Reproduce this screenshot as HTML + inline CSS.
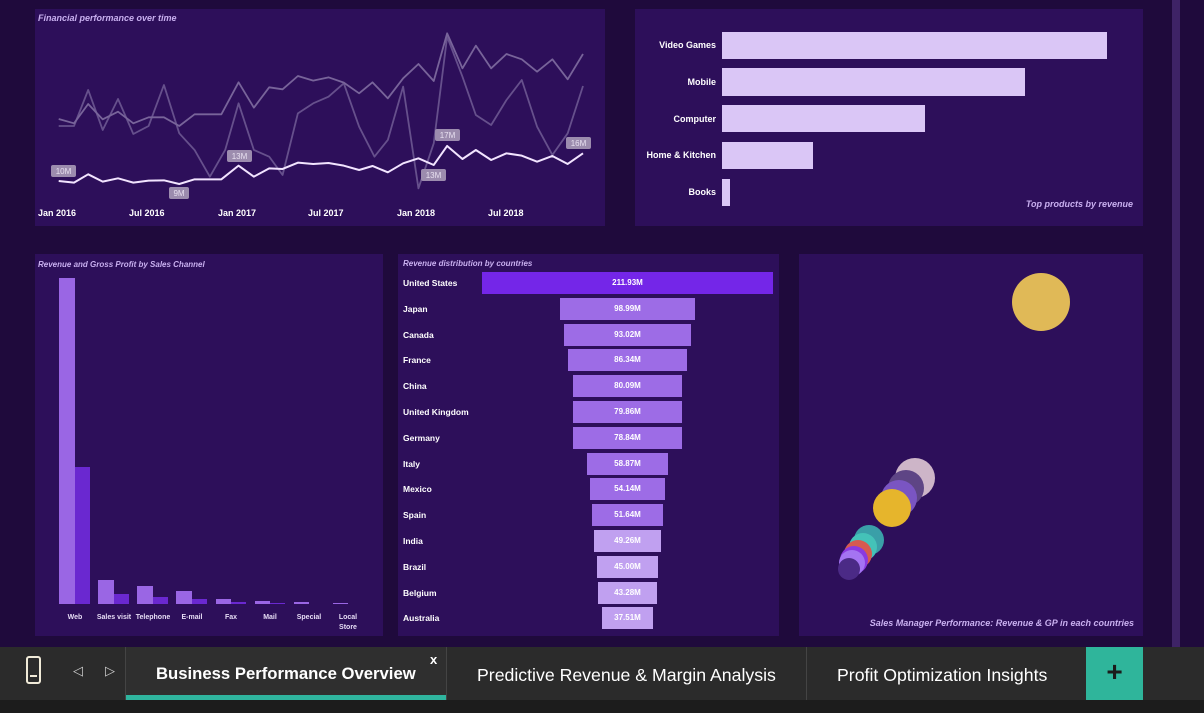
<!DOCTYPE html>
<html><head><meta charset="utf-8"><style>
body{margin:0;width:1204px;height:713px;background:#1f0a3c;overflow:hidden;font-family:"Liberation Sans",sans-serif;position:relative}
.p{position:absolute;background:#2d0f5a}
.t{position:absolute;font-size:9px;font-style:italic;font-weight:bold;color:#c9b0f0}
.lab{position:absolute;font-size:9px;font-weight:bold;color:#fff}
.fb{position:absolute;height:22px;font-size:8px;font-weight:bold;color:#fff;text-align:center;line-height:22px}
</style></head><body>
<div style="position:absolute;left:1172px;top:0;width:8px;height:647px;background:#3e2366"></div>
<div class="p" style="left:35px;top:9px;width:570px;height:217px"></div>
<div class="t" style="left:38px;top:13px">Financial performance over time</div>
<svg style="position:absolute;left:0;top:0" width="620" height="230">
<g transform="translate(30,0) scale(0.3827,0.3333)" fill="none" stroke-linejoin="round">
<polyline vector-effect="non-scaling-stroke" stroke="#66508c" stroke-width="1.8" points="75,378 115,378 152,270 190,390 230,297 270,402 310,378 350,255 390,400 430,450 470,530 510,450 545,310 585,450 625,470 660,525 700,340 740,310 780,290 820,250 860,380 900,470 935,420 975,260 1015,565 1055,430 1090,110 1130,230 1165,345 1205,375 1245,300 1285,240 1325,380 1365,465 1405,400 1445,258"/>
<polyline vector-effect="non-scaling-stroke" stroke="#78649a" stroke-width="1.8" points="75,357 115,370 152,312 190,358 230,335 270,370 310,352 350,352 390,378 430,343 500,343 545,247 585,323 625,262 660,268 700,228 740,242 780,232 820,248 860,280 895,247 935,295 975,235 1015,192 1055,243 1090,100 1130,205 1165,137 1205,205 1245,162 1285,178 1325,215 1365,178 1405,238 1445,162"/>
<polyline vector-effect="non-scaling-stroke" stroke="#f2e4ff" stroke-width="2" points="75,543 115,548 152,523 190,545 230,535 270,548 310,542 350,541 390,552 430,538 500,538 545,497 585,530 625,505 660,507 700,488 740,492 780,489 820,497 860,510 895,498 935,517 975,490 1015,475 1055,495 1090,438 1130,477 1165,450 1205,480 1245,460 1285,467 1325,485 1365,468 1405,492 1445,460"/>
</g>
<g font-size="8" fill="#e8e0f0" text-anchor="middle">
<rect x="51" y="165" width="25" height="12" rx="2" fill="#9c8cae"/><text x="63.5" y="174">10M</text>
<rect x="169" y="187" width="20" height="12" rx="2" fill="#9c8cae"/><text x="179" y="196">9M</text>
<rect x="227" y="150" width="25" height="12" rx="2" fill="#9c8cae"/><text x="239.5" y="159">13M</text>
<rect x="435" y="129" width="25" height="12" rx="2" fill="#9c8cae"/><text x="447.5" y="138">17M</text>
<rect x="421" y="169" width="25" height="12" rx="2" fill="#9c8cae"/><text x="433.5" y="178">13M</text>
<rect x="566" y="137" width="25" height="12" rx="2" fill="#9c8cae"/><text x="578.5" y="146">16M</text>
</g>
<g font-size="9" font-weight="bold" fill="#fff">
<text x="38" y="216">Jan 2016</text><text x="129" y="216">Jul 2016</text><text x="218" y="216">Jan 2017</text><text x="308" y="216">Jul 2017</text><text x="397" y="216">Jan 2018</text><text x="488" y="216">Jul 2018</text>
</g></svg>

<div class="p" style="left:635px;top:9px;width:508px;height:217px"></div>
<div style="position:absolute;left:722px;top:32px;width:385px;height:27px;background:#dac6f6"></div>
<div style="position:absolute;left:722px;top:68px;width:303px;height:28px;background:#dac6f6"></div>
<div style="position:absolute;left:722px;top:105px;width:203px;height:27px;background:#dac6f6"></div>
<div style="position:absolute;left:722px;top:142px;width:91px;height:27px;background:#dac6f6"></div>
<div style="position:absolute;left:722px;top:179px;width:8px;height:27px;background:#dac6f6"></div>
<div class="lab" style="right:488px;top:40px">Video Games</div>
<div class="lab" style="right:488px;top:77px">Mobile</div>
<div class="lab" style="right:488px;top:114px">Computer</div>
<div class="lab" style="right:488px;top:150px">Home &amp; Kitchen</div>
<div class="lab" style="right:488px;top:187px">Books</div>
<div class="t" style="right:71px;top:199px">Top products by revenue</div>

<div class="p" style="left:35px;top:254px;width:348px;height:382px"></div>
<div class="t" style="left:38px;top:260px;font-size:8px">Revenue and Gross Profit by Sales Channel</div>
<svg style="position:absolute;left:0;top:0" width="400" height="640">
<g fill="#9a66e4">
<rect x="59" y="278" width="16" height="326"/><rect x="98" y="580" width="16" height="24"/><rect x="137" y="586" width="16" height="18"/><rect x="176" y="591" width="16" height="13"/><rect x="216" y="599" width="15" height="5"/><rect x="255" y="601" width="15" height="3"/><rect x="294" y="602" width="15" height="2"/><rect x="333" y="603" width="15" height="1"/></g>
<g fill="#6a28d0">
<rect x="75" y="467" width="15" height="137"/><rect x="114" y="594" width="15" height="10"/><rect x="153" y="597" width="15" height="7"/><rect x="192" y="599" width="15" height="5"/><rect x="231" y="602" width="15" height="2"/><rect x="270" y="603" width="15" height="1"/></g>
<g font-size="7" font-weight="bold" fill="#e6dcf5" text-anchor="middle">
<text x="75" y="619">Web</text><text x="114" y="619">Sales visit</text><text x="153" y="619">Telephone</text><text x="192" y="619">E-mail</text><text x="231" y="619">Fax</text><text x="270" y="619">Mail</text><text x="309" y="619">Special</text><text x="348" y="619">Local</text><text x="348" y="629">Store</text></g>
</svg>

<div class="p" style="left:398px;top:254px;width:381px;height:382px"></div>
<div class="t" style="left:403px;top:259px;font-size:8px">Revenue distribution by countries</div>
<div id="fun"></div>
<script>
var d=[["United States",211.93],["Japan",98.99],["Canada",93.02],["France",86.34],["China",80.09],["United Kingdom",79.86],["Germany",78.84],["Italy",58.87],["Mexico",54.14],["Spain",51.64],["India",49.26],["Brazil",45.00],["Belgium",43.28],["Australia",37.51]];
var h="";d.forEach(function(r,i){var w=r[1]/211.93*291,y=272+i*25.8;var c=i==0?"#7426e8":(i>=10?"#c0a0f0":"#9d6ce6");
h+='<div class="lab" style="left:403px;top:'+(y+6)+'px;font-size:8.5px">'+r[0]+'</div><div class="fb" style="left:'+(627.5-w/2)+'px;top:'+y+'px;width:'+w+'px;background:'+c+'">'+r[1].toFixed(2)+'M</div>';});
document.getElementById("fun").innerHTML=h;
</script>

<div class="p" style="left:799px;top:254px;width:344px;height:382px"></div>
<svg style="position:absolute;left:0;top:0" width="1204" height="640">
<circle cx="1041" cy="302" r="29" fill="#e0b957"/>
<circle cx="915" cy="478" r="20" fill="#cdb5c8"/>
<circle cx="906" cy="488" r="18" fill="#5e4585"/>
<circle cx="899" cy="498" r="18" fill="#7a55c2"/>
<circle cx="892" cy="508" r="19" fill="#e6b52c"/>
<circle cx="869" cy="540" r="15" fill="#3a9fa8"/>
<circle cx="863" cy="547" r="14" fill="#44c2b8"/>
<circle cx="858" cy="554" r="14" fill="#d65a50"/>
<circle cx="854" cy="560" r="14" fill="#8a3ae0"/>
<circle cx="852" cy="563" r="13" fill="#a474f2"/>
<circle cx="849" cy="569" r="11" fill="#4b2a86"/>
</svg>
<div class="t" style="right:70px;top:618px">Sales Manager Performance: Revenue &amp; GP in each countries</div>

<div style="position:absolute;left:0;top:647px;width:1204px;height:53px;background:#2b2b2b"></div>
<div style="position:absolute;left:0;top:700px;width:1204px;height:13px;background:#1c1c1c"></div>
<div style="position:absolute;left:26px;top:656px;width:11px;height:24px;border:2px solid #f0ead8;border-radius:3px"></div>
<div style="position:absolute;left:30px;top:675px;width:7px;height:2px;background:#f0ead8"></div>
<div style="position:absolute;left:73px;top:663px;color:#ccc;font-size:13px">◁</div>
<div style="position:absolute;left:105px;top:663px;color:#ccc;font-size:13px">▷</div>
<div style="position:absolute;left:125px;top:647px;width:1px;height:53px;background:#444"></div>
<div style="position:absolute;left:126px;top:647px;width:320px;height:53px;background:#2f2f2f"></div>
<div style="position:absolute;left:126px;top:695px;width:320px;height:5px;background:#2fb59e"></div>
<div style="position:absolute;left:156px;top:664px;color:#fff;font-weight:bold;font-size:16.7px">Business Performance Overview</div>
<div style="position:absolute;left:430px;top:652px;color:#fff;font-weight:bold;font-size:13px">x</div>
<div style="position:absolute;left:446px;top:647px;width:1px;height:53px;background:#444"></div>
<div style="position:absolute;left:477px;top:665px;color:#fff;font-size:17.7px">Predictive Revenue &amp; Margin Analysis</div>
<div style="position:absolute;left:806px;top:647px;width:1px;height:53px;background:#444"></div>
<div style="position:absolute;left:837px;top:665px;color:#fff;font-size:17.7px">Profit Optimization Insights</div>
<div style="position:absolute;left:1086px;top:647px;width:57px;height:53px;background:#2fb59b;color:#1b1b1b;font-size:28px;font-weight:bold;text-align:center;line-height:50px">+</div>
</body></html>
